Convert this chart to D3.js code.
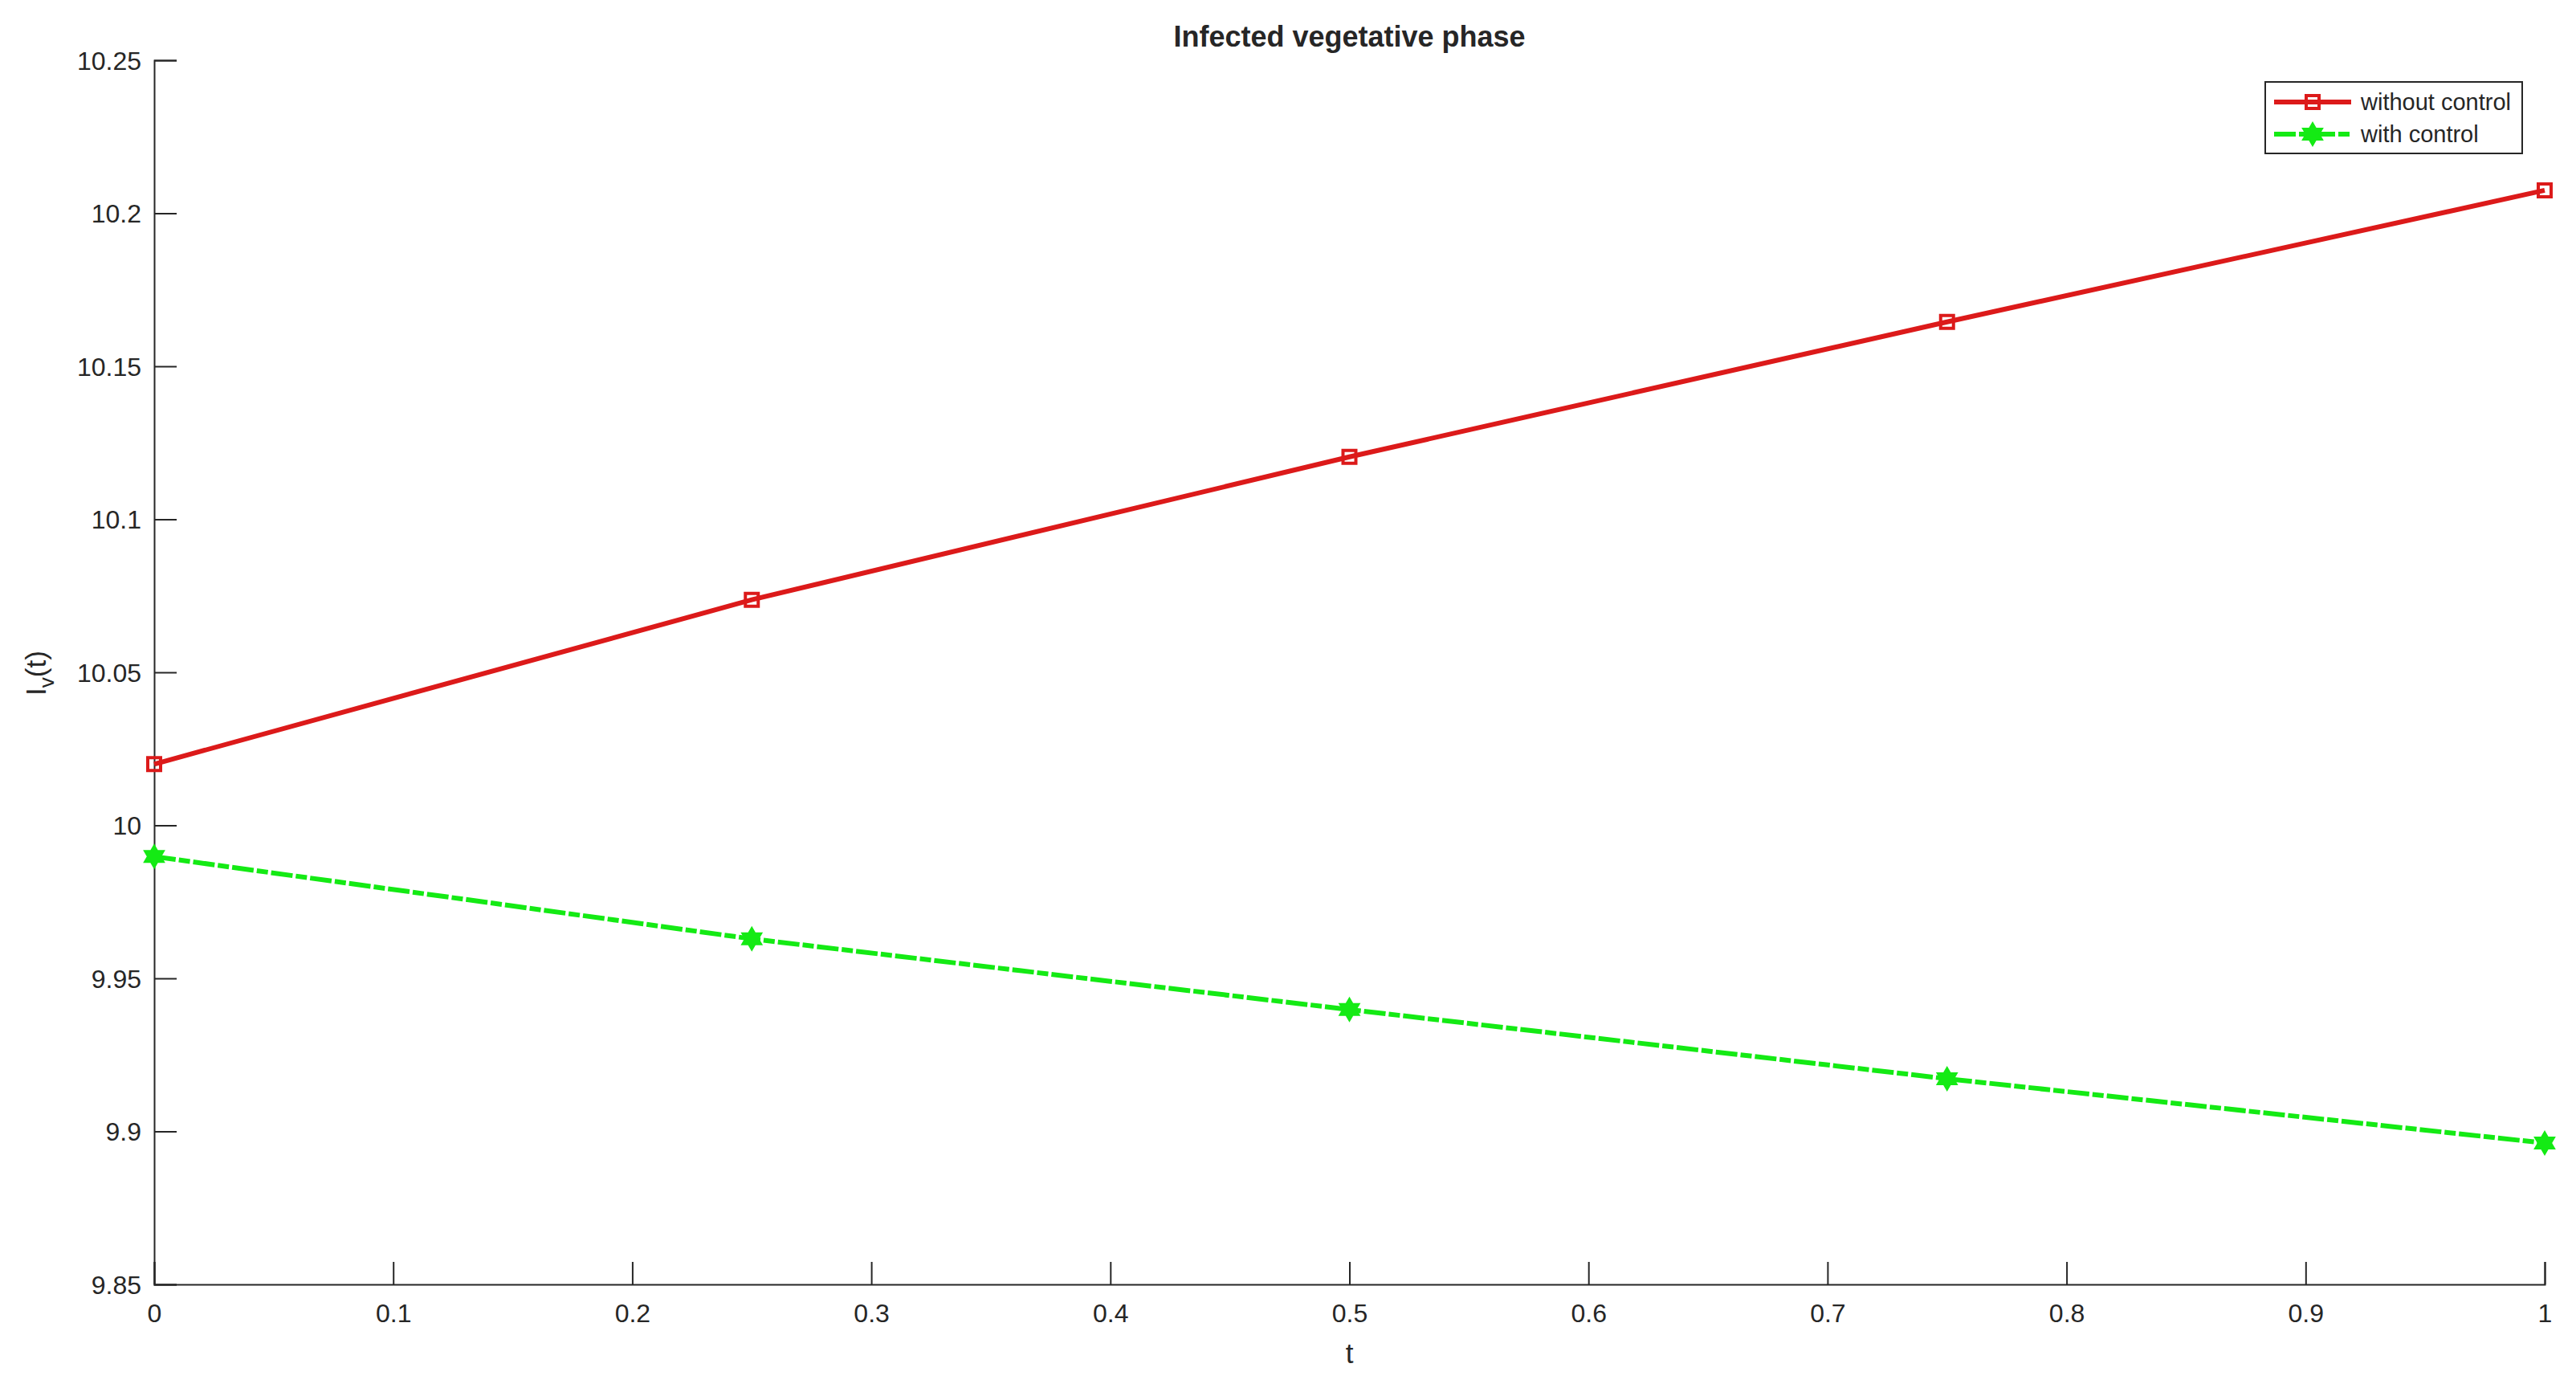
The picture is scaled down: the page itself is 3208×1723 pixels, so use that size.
<!DOCTYPE html>
<html>
<head>
<meta charset="utf-8">
<script src="https://cdn.jsdelivr.net/npm/d3@7"></script>
<style>
  html, body { margin: 0; padding: 0; background: #fff; }
  svg { display: block; }
  text { font-family: "Liberation Sans", Arial, sans-serif; fill: #262626; }
</style>
</head>
<body>
<script>
const tValues = [0, 0.25, 0.5, 0.75, 1];
const withoutControl = [10.020, 10.0737, 10.1204, 10.1645, 10.2075];
const withControl = [9.9898, 9.9629, 9.9398, 9.9172, 9.8962];
const xTicks = [0, 0.1, 0.2, 0.3, 0.4, 0.5, 0.6, 0.7, 0.8, 0.9, 1];
const yTicks = [9.85, 9.9, 9.95, 10, 10.05, 10.1, 10.15, 10.2, 10.25];
const seriesNames = ["without control", "with control"];
const titleText = "Infected vegetative phase";

const W = 3208, H = 1723;
const margin = {left: 192, right: W - 3169, top: 75, bottom: H - 1599};
const RED = "#dc1a1a", GREEN = "#14ea14", AX = "#262626";
const DASH = "27,4,14,4";

const svg = d3.select("body").append("svg").attr("width", W).attr("height", H);

const x = d3.scaleLinear().domain([0, 1]).range([margin.left, W - margin.right]);
const y = d3.scaleLinear().domain([9.85, 10.25]).range([H - margin.bottom, margin.top]);

// axes
const xAxis = d3.axisBottom(x).tickValues(xTicks).tickSize(-28).tickPadding(24)
  .tickFormat(d => d3.format("~g")(d));
const yAxis = d3.axisLeft(y).tickValues(yTicks).tickSize(-28).tickPadding(16)
  .tickFormat(d => d3.format("~g")(d));

const gx = svg.append("g").attr("transform", `translate(0,${y.range()[0]})`).call(xAxis);
const gy = svg.append("g").attr("transform", `translate(${x.range()[0]},0)`).call(yAxis);
[gx, gy].forEach(g => {
  g.select(".domain").attr("stroke", AX).attr("stroke-width", 2);
  g.selectAll(".tick line").attr("stroke", AX).attr("stroke-width", 2);
  g.selectAll(".tick text").style("font-size", "32px").attr("fill", AX)
    .style("font-family", "'Liberation Sans', Arial, sans-serif");
});
gy.selectAll(".tick text").attr("dy", "0.35em");
gx.selectAll(".tick text").attr("dy", "0.71em");

// hexagram symbol
const hexagram = {
  draw(ctx, size) {
    const R = Math.sqrt(size) / 2;
    const r = R / Math.sqrt(3);
    for (let i = 0; i < 12; i++) {
      const a = -Math.PI / 2 + i * Math.PI / 6;
      const rad = i % 2 === 0 ? R : r;
      const px = rad * Math.cos(a), py = rad * Math.sin(a);
      if (i === 0) ctx.moveTo(px, py); else ctx.lineTo(px, py);
    }
    ctx.closePath();
  }
};

const line = d3.line().x(d => x(d[0])).y(d => y(d[1]));
const redData = tValues.map((t, i) => [t, withoutControl[i]]);
const greenData = tValues.map((t, i) => [t, withControl[i]]);

svg.append("path").datum(redData).attr("d", line)
  .attr("fill", "none").attr("stroke", RED).attr("stroke-width", 6);
svg.append("path").datum(greenData).attr("d", line)
  .attr("fill", "none").attr("stroke", GREEN).attr("stroke-width", 6)
  .attr("stroke-dasharray", DASH);

const sq = d3.symbol().type(d3.symbolSquare).size(16 * 16);
const hx = d3.symbol().type(hexagram).size(28 * 28);

svg.selectAll(".redm").data(redData).join("path")
  .attr("transform", d => `translate(${x(d[0])},${y(d[1])})`)
  .attr("d", sq).attr("fill", "none").attr("stroke", RED).attr("stroke-width", 4);
svg.selectAll(".greenm").data(greenData).join("path")
  .attr("transform", d => `translate(${x(d[0])},${y(d[1])})`)
  .attr("d", hx).attr("fill", GREEN).attr("stroke", GREEN).attr("stroke-width", 2);

// title
svg.append("text").attr("x", (x.range()[0] + x.range()[1]) / 2).attr("y", 58)
  .attr("text-anchor", "middle").style("font-size", "36px").style("font-weight", "bold")
  .attr("fill", "#000").text(titleText);

// x label
svg.append("text").attr("x", (x.range()[0] + x.range()[1]) / 2).attr("y", 1697)
  .attr("text-anchor", "middle").style("font-size", "35px").text("t");

// y label
const yl = svg.append("text").attr("transform", `translate(57,838) rotate(-90)`)
  .attr("text-anchor", "middle").style("font-size", "35px");
yl.append("tspan").text("I");
yl.append("tspan").attr("dy", 10).style("font-size", "26px").text("v");
yl.append("tspan").attr("dy", -10).text("(t)");

// legend
const lg = svg.append("g");
lg.append("rect").attr("x", 2821).attr("y", 102).attr("width", 320).attr("height", 89)
  .attr("fill", "#fff").attr("stroke", AX).attr("stroke-width", 2);
const rows = [
  {name: seriesNames[0], color: RED, dash: null, sym: sq, fill: "none", sw: 4, yy: 127},
  {name: seriesNames[1], color: GREEN, dash: DASH, sym: hx, fill: GREEN, sw: 2, yy: 167}
];
rows.forEach(r => {
  lg.append("line").attr("x1", 2832).attr("x2", 2928).attr("y1", r.yy).attr("y2", r.yy)
    .attr("stroke", r.color).attr("stroke-width", 6).attr("stroke-dasharray", r.dash);
  lg.append("path").attr("transform", `translate(2880,${r.yy})`).attr("d", r.sym)
    .attr("fill", r.fill).attr("stroke", r.color).attr("stroke-width", r.sw);
  lg.append("text").attr("x", 2940).attr("y", r.yy + 10).style("font-size", "29px")
    .attr("fill", "#000").text(r.name);
});
</script>
</body>
</html>
